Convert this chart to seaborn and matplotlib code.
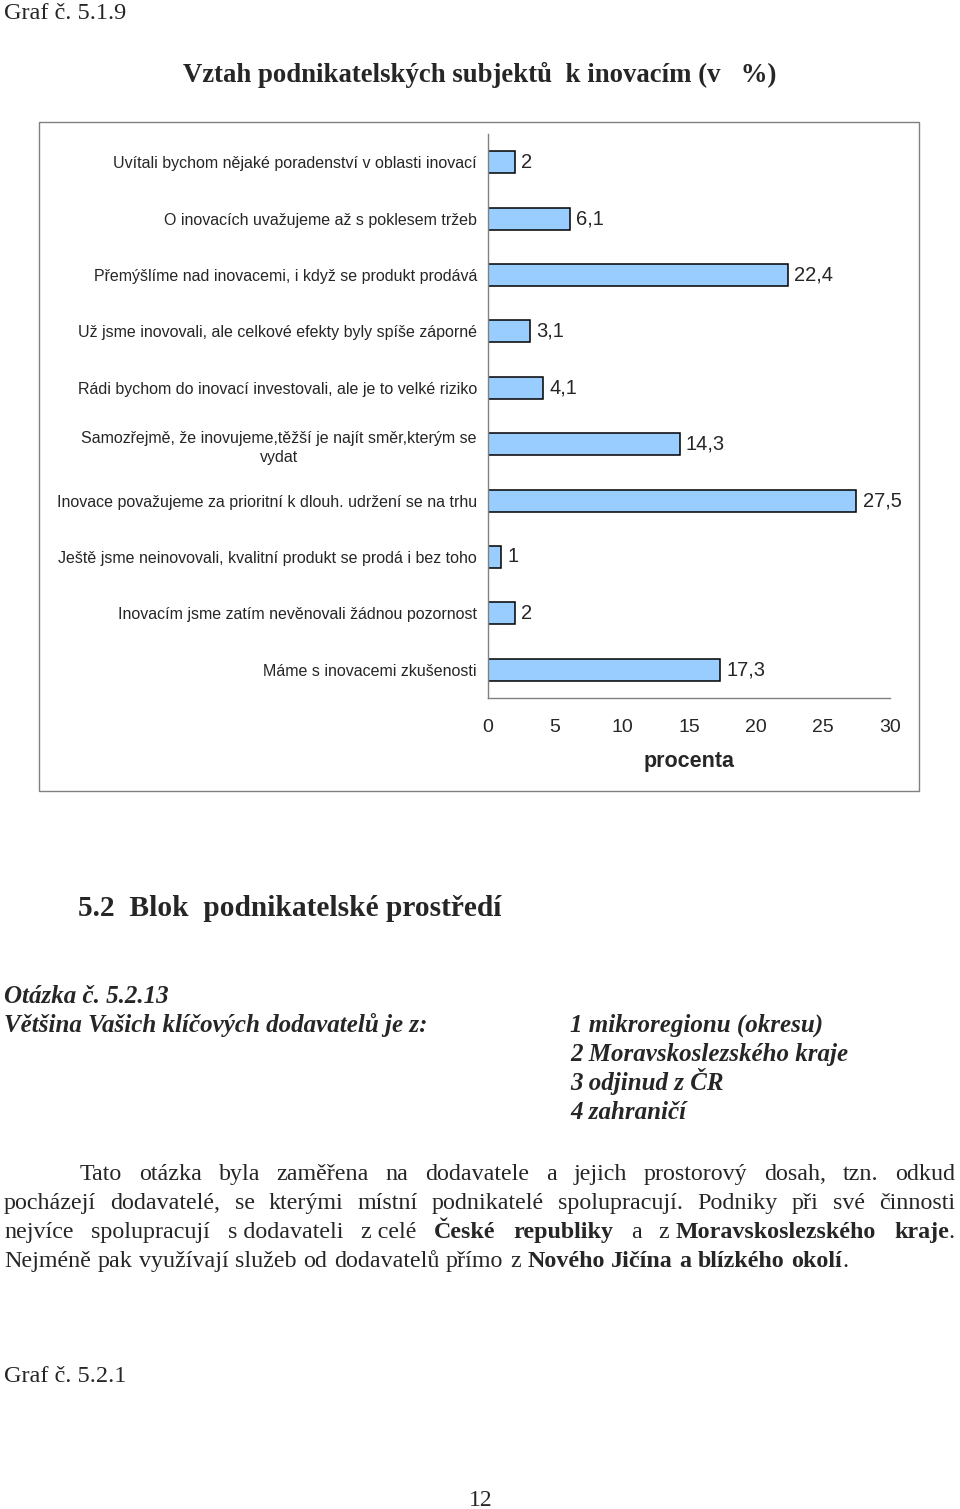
import matplotlib
matplotlib.use("Agg")
import matplotlib.pyplot as plt
import seaborn as sns
import pandas as pd
import numpy as np
from matplotlib.patches import Rectangle

# ---------------- data ----------------
categories = [
    "Uvítali bychom nějaké poradenství v oblasti inovací",
    "O inovacích uvažujeme až s poklesem tržeb",
    "Přemýšlíme nad inovacemi, i když se produkt prodává",
    "Už jsme inovovali, ale celkové efekty byly spíše záporné",
    "Rádi bychom do inovací investovali, ale je to velké riziko",
    "Samozřejmě, že inovujeme,těžší je najít směr,kterým se\nvydat",
    "Inovace považujeme za prioritní k dlouh. udržení se na trhu",
    "Ještě jsme neinovovali, kvalitní produkt se prodá i bez toho",
    "Inovacím jsme zatím nevěnovali žádnou pozornost",
    "Máme s inovacemi zkušenosti",
]
values = [2, 6.1, 22.4, 3.1, 4.1, 14.3, 27.5, 1, 2, 17.3]
value_labels = ["2", "6,1", "22,4", "3,1", "4,1", "14,3", "27,5", "1", "2", "17,3"]
x_ticks = [0, 5, 10, 15, 20, 25, 30]
x_label = "procenta"
chart_title = "Vztah podnikatelských subjektů  k inovacím (v   %)"

graf_top = "Graf č. 5.1.9"
section_heading = "5.2  Blok  podnikatelské prostředí"
question_no = "Otázka č. 5.2.13"
question_text = "Většina Vašich klíčových dodavatelů je z:"
answers = ["1 mikroregionu (okresu)", "2 Moravskoslezského kraje",
           "3 odjinud z ČR", "4 zahraničí"]
paragraph_lines = [
    [[("Tato", 0)], [("otázka", 0)], [("byla", 0)], [("zaměřena", 0)], [("na", 0)],
     [("dodavatele", 0)], [("a", 0)], [("jejich", 0)], [("prostorový", 0)],
     [("dosah,", 0)], [("tzn.", 0)], [("odkud", 0)]],
    [[("pocházejí", 0)], [("dodavatelé,", 0)], [("se", 0)], [("kterými", 0)],
     [("místní", 0)], [("podnikatelé", 0)], [("spolupracují.", 0)], [("Podniky", 0)],
     [("při", 0)], [("své", 0)], [("činnosti", 0)]],
    [[("nejvíce", 0)], [("spolupracují", 0)], [("s dodavateli", 0)], [("z celé", 0)],
     [("České", 1)], [("republiky", 1)], [("a", 0)], [("z ", 0), ("Moravskoslezského", 1)],
     [("kraje", 1), (".", 0)]],
    [[("Nejméně", 0)], [("pak", 0)], [("využívají", 0)], [("služeb", 0)], [("od", 0)],
     [("dodavatelů", 0)], [("přímo", 0)], [("z", 0)], [("Nového", 1)], [("Jičína", 1)],
     [("a", 1)], [("blízkého", 1)], [("okolí", 1)], [(".", 0)]],
]
graf_bottom = "Graf č. 5.2.1"
page_number = "12"

# ---------------- setup ----------------
sns.set_style("white")
SANS = ["Liberation Sans", "DejaVu Sans"]
SERIF = ["Liberation Serif", "DejaVu Serif"]
plt.rcParams["font.family"] = SANS

W, H = 960, 1509
fig = plt.figure(figsize=(W / 100, H / 100), dpi=100)
fig.patch.set_facecolor("white")


def fx(x):
    return x / W


def fy(y):
    return 1 - y / H


# ---------------- chart ----------------
AX_L, AX_R, AX_T, AX_B = 488, 890, 134, 698
ax = fig.add_axes([fx(AX_L), fy(AX_B), (AX_R - AX_L) / W, (AX_B - AX_T) / H])
df = pd.DataFrame({"kategorie": categories, "procenta": values})
sns.barplot(data=df, x="procenta", y="kategorie", orient="h", color="#99CCFF",
            saturation=1, edgecolor="black", linewidth=1.1, width=0.39, ax=ax)

ax.set_xlim(0, 30)
ax.set_ylim(9.5, -0.5)
ax.set_xticks(x_ticks)
ax.set_xticklabels([str(t) for t in x_ticks])
ax.set_yticks(range(len(categories)))
ax.set_yticklabels(categories, multialignment="center", linespacing=1.4)
ax.set_yticks(np.arange(-0.5, len(categories), 1), minor=True)

ax.tick_params(axis="x", direction="out", length=5, width=1, color="#808080",
               labelsize=14, pad=10)
ax.tick_params(axis="y", which="major", length=0, pad=8, labelsize=11.5)
ax.tick_params(axis="y", which="minor", direction="out", length=5, width=1, color="#808080")
ax.tick_params(axis="x", which="minor", length=0)

for s in ["top", "right"]:
    ax.spines[s].set_visible(False)
for s in ["left", "bottom"]:
    ax.spines[s].set_color("#808080")
    ax.spines[s].set_linewidth(1)

ax.set_ylabel("")
ax.set_xlabel(x_label, fontweight="bold", fontsize=15.5)
ax.xaxis.set_label_coords(0.5, -(761 - AX_B) / (AX_B - AX_T))
ax.xaxis.label.set_va("center")

ax.bar_label(ax.containers[0], labels=value_labels, padding=4.5, fontsize=14.5)

fig.patches.append(Rectangle((fx(39), fy(791)), (919 - 39) / W, (791 - 122) / H,
                             transform=fig.transFigure, fill=False,
                             edgecolor="#808080", linewidth=1))

# ---------------- page text ----------------
fig.text(fx(4), fy(19), graf_top, family=SERIF, fontsize=17.5, va="baseline", ha="left")
fig.text(fx(480), fy(82), chart_title, family=SERIF, fontsize=19.3, fontweight="bold",
         va="baseline", ha="center")
fig.text(fx(78), fy(916), section_heading, family=SERIF, fontsize=21.2, fontweight="bold",
         va="baseline", ha="left")
fig.text(fx(4), fy(1003), question_no, family=SERIF, fontsize=18, fontweight="bold",
         style="italic", va="baseline", ha="left")
fig.text(fx(4), fy(1032), question_text, family=SERIF, fontsize=18, fontweight="bold",
         style="italic", va="baseline", ha="left")
for i, a in enumerate(answers):
    fig.text(fx(570), fy(1032 + 29 * i), a, family=SERIF, fontsize=18, fontweight="bold",
             style="italic", va="baseline", ha="left")
fig.text(fx(4), fy(1382), graf_bottom, family=SERIF, fontsize=17.5, va="baseline", ha="left")
fig.text(fx(481), fy(1506), page_number, family=SERIF, fontsize=17, va="baseline", ha="center")

# justified paragraph
PS = 17.3
renderer = fig.canvas.get_renderer()


def width_of(s, bold):
    t = fig.text(0, 0, s, family=SERIF, fontsize=PS,
                 fontweight="bold" if bold else "normal")
    w = t.get_window_extent(renderer).width
    t.remove()
    return w


space_w = width_of("a a", 0) - width_of("aa", 0)
baselines = [1180, 1209, 1238, 1267]
lefts = [80, 4, 4, 4]
RIGHT = 955
for li, units in enumerate(paragraph_lines):
    widths = [[width_of(txt, b) for txt, b in u] for u in units]
    total = sum(sum(w) for w in widths)
    last = li == len(paragraph_lines) - 1
    if last:
        gap = space_w * 1.1
    else:
        gap = (RIGHT - lefts[li] - total) / (len(units) - 1)
    x = lefts[li]
    for ui, u in enumerate(units):
        if last and u[0][0] == ".":
            x -= gap
        for (txt, b), w in zip(u, widths[ui]):
            fig.text(fx(x), fy(baselines[li]), txt, family=SERIF, fontsize=PS,
                     fontweight="bold" if b else "normal", va="baseline", ha="left")
            x += w
        x += gap

fig.savefig("out.png", dpi=100, facecolor="white")
